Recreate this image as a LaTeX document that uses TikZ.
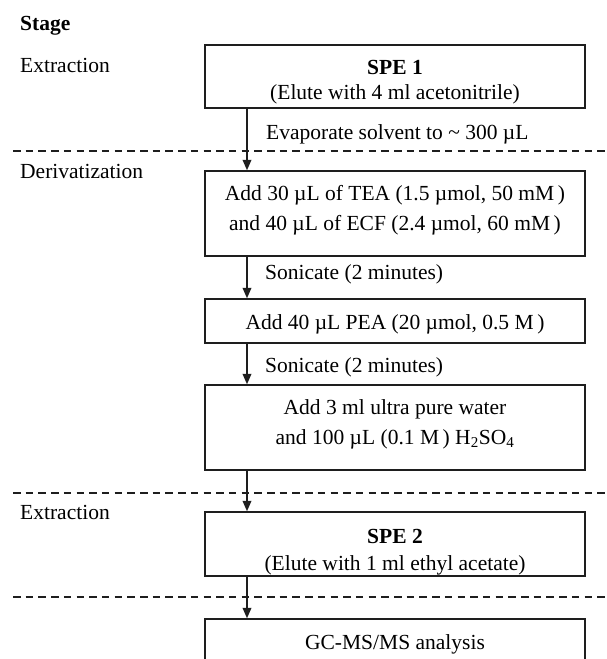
\documentclass[tikz,border=0pt]{standalone}
\usepackage{fontspec}
\setmainfont{Liberation Serif}
\usetikzlibrary{arrows.meta}
\definecolor{linec}{HTML}{1E1E1E}
\newcommand{\myfs}{\fontsize{21.5}{30}\selectfont}
\begin{document}
\begin{tikzpicture}[x=1pt,y=-1pt,
  box/.style={draw=linec, line width=1.3pt, minimum width=380pt, inner sep=0pt, align=center, font=\myfs},
  lab/.style={anchor=base west, inner sep=0pt, font=\myfs},
  arr/.style={draw=linec, line width=2pt, -{Triangle[length=10.5pt,width=8.5pt]}},
  sep/.style={draw=linec, line width=1.2pt, dash pattern=on 7.5pt off 5.2pt}]
\useasboundingbox (0,0) rectangle (607,659);
\clip (0,0) rectangle (607,659);
% stage labels
\node[lab] (stage) at (20,30) {\textbf{Stage}};
\node[lab] (ext1) at (20,72.5) {Extraction};
\node[lab] (deriv) at (20,178) {Derivatization};
\node[lab] (ext2) at (20,519.5) {Extraction};
% boxes
\node[box, minimum height=63pt] (b1) at (395,76.5) {\rule{0pt}{25pt}\textbf{SPE 1}\\[-5pt](Elute with 4 ml acetonitrile)};
\node[box, minimum height=85pt] (b2) at (395,213.5) {Add 30 µL of TEA (1.5 µmol, 50 mM\,)\\and 40 µL of ECF (2.4 µmol, 60 mM\,)\rule[-11pt]{0pt}{11pt}};
\node[box, minimum height=44pt] (b3) at (395,321) {\rule{0pt}{21pt}Add 40 µL PEA (20 µmol, 0.5 M\,)};
\node[box, minimum height=85pt] (b4) at (395,427.5) {Add 3 ml ultra pure water\\and 100 µL (0.1 M\,) H\textsubscript{2}SO\textsubscript{4}\rule[-11pt]{0pt}{11pt}};
\node[box, minimum height=64pt] (b5) at (395,544) {\rule{0pt}{31pt}\textbf{SPE 2}\\[-3pt](Elute with 1 ml ethyl acetate)};
\node[box, minimum height=46pt] (b6) at (395,642) {\rule{0pt}{19pt}GC-MS/MS analysis};
% step texts
\node[lab] (evap) at (266,139) {Evaporate solvent to \textasciitilde\ 300 µL};
\node[lab] (son1) at (265,279) {Sonicate (2 minutes)};
\node[lab] (son2) at (265,372) {Sonicate (2 minutes)};
% separators
\draw[sep] (13,151) -- (607,151);
\draw[sep] (13,493) -- (607,493);
\draw[sep] (13,597) -- (607,597);
% arrows
\coordinate (ax) at (247,0);
\draw[arr] (b1.south -| ax) -- (b2.north -| ax);
\draw[arr] (b2.south -| ax) -- (b3.north -| ax);
\draw[arr] (b3.south -| ax) -- (b4.north -| ax);
\draw[arr] (b4.south -| ax) -- (b5.north -| ax);
\draw[arr] (b5.south -| ax) -- (b6.north -| ax);
\end{tikzpicture}
\end{document}
